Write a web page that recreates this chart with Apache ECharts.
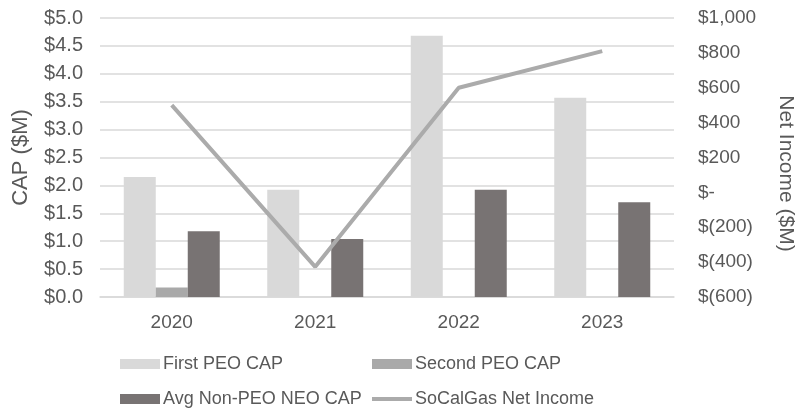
<!DOCTYPE html>
<html><head><meta charset="utf-8">
<script src="https://cdn.jsdelivr.net/npm/echarts@6/dist/echarts.min.js"></script>
<style>html,body{margin:0;padding:0;background:#fff}#c{width:798px;height:418px}</style>
</head><body><div id="c"></div>
<script>
const categories = ['2020', '2021', '2022', '2023'];
const firstPeoCap = [2.15, 1.92, 4.68, 3.57];
const secondPeoCap = [0.17, null, null, null];
const avgNonPeoCap = [1.18, 1.04, 1.92, 1.70];
const netIncome = [500, -427, 600, 810];
const seriesNames = ['First PEO CAP', 'Second PEO CAP', 'Avg Non-PEO NEO CAP', 'SoCalGas Net Income'];

const txt = '#595959';
const font = 'Liberation Sans, Arial, sans-serif';
const chart = echarts.init(document.getElementById('c'));
function legendAt(name, left, top, icon, h) {
  return { data: [{ name: name, icon: icon }], left: left, top: top, itemWidth: 40, itemHeight: h, itemGap: 0,
    textStyle: { color: txt, fontSize: 18, fontFamily: font, padding: [0, 0, 0, -2] }, padding: 0 };
}
chart.setOption({
  animation: false,
  textStyle: { fontFamily: font },
  grid: { left: 100, right: 124, top: 18, bottom: 121, outerBoundsMode: 'none', containLabel: false },
  legend: [
    legendAt(seriesNames[0], 120, 355, 'rect', 10),
    legendAt(seriesNames[1], 372, 355, 'rect', 10),
    legendAt(seriesNames[2], 120, 390, 'rect', 10),
    legendAt(seriesNames[3], 372, 390, 'rect', 4)
  ],
  xAxis: {
    type: 'category', data: categories,
    axisLine: { show: true, lineStyle: { color: '#d9d9d9', width: 1.5 } },
    axisTick: { show: false },
    axisLabel: { color: txt, fontSize: 19, margin: 16 }
  },
  yAxis: [
    { type: 'value', min: 0, max: 5, interval: 0.5,
      name: 'CAP ($M)', nameLocation: 'middle', nameGap: 68, nameRotate: 90,
      nameTextStyle: { color: txt, fontSize: 22 },
      axisLabel: { color: txt, fontSize: 20, margin: 17, formatter: v => '$' + v.toFixed(1) },
      axisLine: { show: false }, axisTick: { show: false },
      splitLine: { lineStyle: { color: '#d9d9d9', width: 1.5 } } },
    { type: 'value', min: -600, max: 1000, interval: 200, alignTicks: false,
      name: 'Net Income ($M)', nameLocation: 'middle', nameGap: 101, nameRotate: -90,
      nameTextStyle: { color: txt, fontSize: 21, padding: [0, 0, 0, 32] },
      axisLabel: { color: txt, fontSize: 19, margin: 24,
        formatter: v => v === 0 ? '$-' : (v < 0 ? '$(' + Math.abs(v) + ')' : '$' + v.toLocaleString('en-US')) },
      axisLine: { show: false }, axisTick: { show: false }, splitLine: { show: false } }
  ],
  series: [
    { name: seriesNames[0], type: 'bar', data: firstPeoCap, barWidth: 32, barGap: '0%', itemStyle: { color: '#d9d9d9' } },
    { name: seriesNames[1], type: 'bar', data: secondPeoCap, barWidth: 32, barGap: '0%', itemStyle: { color: '#a9a9a9' } },
    { name: seriesNames[2], type: 'bar', data: avgNonPeoCap, barWidth: 32, barGap: '0%', itemStyle: { color: '#787373' } },
    { name: seriesNames[3], type: 'line', yAxisIndex: 1, data: netIncome, symbol: 'none',
      lineStyle: { color: '#ababab', width: 4 }, itemStyle: { color: '#ababab' } }
  ]
});
</script></body></html>
